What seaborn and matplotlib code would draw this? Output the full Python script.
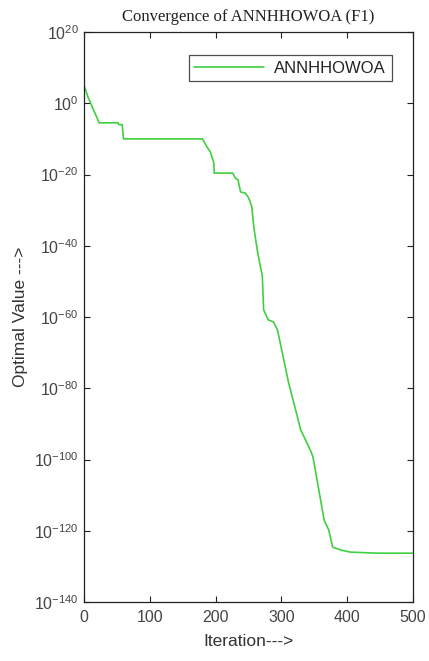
import numpy as np
import pandas as pd
import matplotlib
matplotlib.use("Agg")
import matplotlib.pyplot as plt
import seaborn as sns
from matplotlib.ticker import FixedLocator, LogFormatterSciNotation, NullLocator

# ---- data ----
iterations = [0, 6, 23, 52, 53, 58, 60, 180, 187, 192, 197, 198, 226, 230, 234,
              238, 245, 250, 255, 258, 264, 271, 273, 280, 288, 294, 311, 325,
              329, 345, 348, 365, 372, 378, 390, 405, 446, 500]
log10_value = [5, 1.8, -5.5, -5.5, -6, -6, -10, -10, -12.3, -13.7, -16.5, -19.6,
               -19.6, -21, -21.5, -24.9, -25.2, -26.5, -29, -34.7, -42, -48.5,
               -58, -60.8, -61.4, -63.6, -78.5, -88.5, -91.5, -97.8, -99.3,
               -117, -119.8, -124.6, -125.4, -126, -126.3, -126.3]
series_name = "ANNHHOWOA"
title = "Convergence of ANNHHOWOA (F1)"
x_label = "Iteration--->"
y_label = "Optimal Value --->"
x_ticks = [0, 100, 200, 300, 400, 500]
y_tick_exponents = [-140, -120, -100, -80, -60, -40, -20, 0, 20]

df = pd.DataFrame({"Iteration": iterations,
                   "Value": np.power(10.0, np.array(log10_value, dtype=float)),
                   "Series": series_name})

sns.set_style("ticks")
plt.rcParams["font.family"] = ["Liberation Sans", "DejaVu Sans"]
plt.rcParams["mathtext.default"] = "regular"

fig = plt.figure(figsize=(4.29, 6.61), dpi=100)
ax = fig.add_axes([84 / 429, 1 - 602 / 661, (413 - 84) / 429, (602 - 32) / 661])

sns.lineplot(data=df, x="Iteration", y="Value", hue="Series",
             palette=["#3fcf3f"], linewidth=1.2, ax=ax)

ax.set_yscale("log")
ax.set_xlim(0, 500)
ax.set_ylim(1e-140, 1e20)
ax.set_xticks(x_ticks)
ax.yaxis.set_major_locator(FixedLocator([10.0 ** e for e in y_tick_exponents]))
ax.yaxis.set_major_formatter(LogFormatterSciNotation(base=10))
ax.yaxis.set_minor_locator(NullLocator())
ax.xaxis.set_minor_locator(NullLocator())

ax.tick_params(axis="both", which="major", direction="in", length=4, width=0.8,
               top=True, right=True, labelsize=11.5, colors="#222222",
               labelcolor="#444444")
ax.tick_params(axis="x", pad=6)
ax.tick_params(axis="y", pad=4)
for s in ax.spines.values():
    s.set_visible(True)
    s.set_color("#222222")
    s.set_linewidth(0.9)

ax.set_xlabel(x_label, fontsize=12.5, color="#333333", labelpad=6)
ax.set_ylabel(y_label, fontsize=12.5, color="#333333", labelpad=4)
ax.set_title(title, fontsize=12, family=["Liberation Serif", "DejaVu Serif"],
             color="#222222", pad=8)

leg = ax.legend(loc="upper right", bbox_to_anchor=(0.936, 0.96), borderaxespad=0,
                frameon=True, fancybox=False, edgecolor="#222222", fontsize=12,
                handlelength=4.2, borderpad=0.35, handletextpad=0.6)
leg.get_frame().set_linewidth(0.9)
for t in leg.get_texts():
    t.set_color("#222222")

fig.savefig("out.png", dpi=100, facecolor="white")
